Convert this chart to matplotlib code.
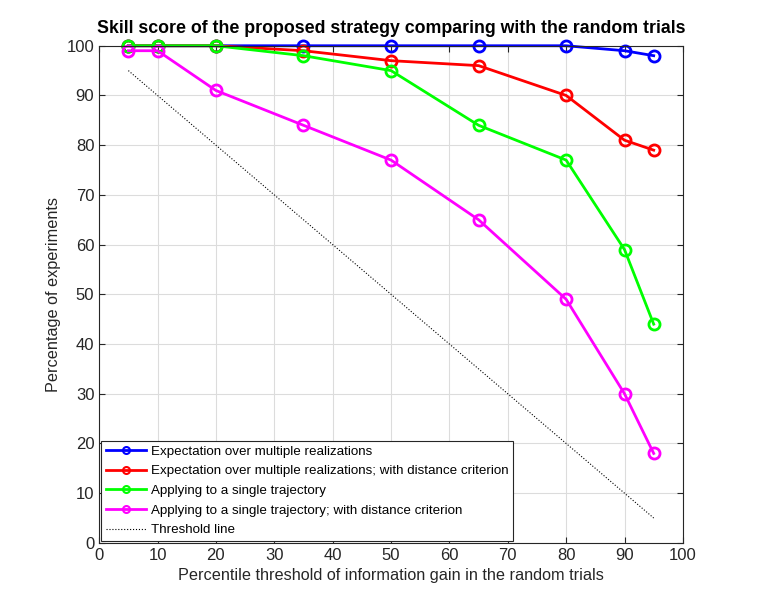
import numpy as np
import matplotlib
matplotlib.use('Agg')
import matplotlib.pyplot as plt
from matplotlib.lines import Line2D

plt.rcParams['font.family'] = ['Liberation Sans', 'DejaVu Sans']

x = [5, 10, 20, 35, 50, 65, 80, 90, 95]
multi = [100, 100, 100, 100, 100, 100, 100, 99, 98]
multi_dist = [100, 100, 100, 99, 97, 96, 90, 81, 79]
single = [100, 100, 100, 98, 95, 84, 77, 59, 44]
single_dist = [99, 99, 91, 84, 77, 65, 49, 30, 18]
thr_x = [5, 95]
thr_y = [95, 5]

labels = ['Expectation over multiple realizations',
          'Expectation over multiple realizations; with distance criterion',
          'Applying to a single trajectory',
          'Applying to a single trajectory; with distance criterion',
          'Threshold line']
colors = ['#0000ff', '#ff0000', '#00ff00', '#ff00ff']

fig = plt.figure(figsize=(7.63, 6.1), dpi=100)
ax = fig.add_axes([0.130, 0.110, 0.765, 0.815])

handles = []
for y, c in zip([multi, multi_dist, single, single_dist], colors):
    ax.plot(x, y, '-o', color=c, lw=2, ms=8, mfc='none', mew=2, clip_on=False)
    handles.append(Line2D([], [], color=c, lw=2, marker='o', ms=5, mfc='none', mew=1.5))
ax.plot(thr_x, thr_y, ':', color='black', lw=0.8)
handles.append(Line2D([], [], color='black', lw=0.8, ls=':'))

ax.set_xlim(0, 100)
ax.set_ylim(0, 100)
ax.set_xticks(np.arange(0, 101, 10))
ax.set_yticks(np.arange(0, 101, 10))
ax.grid(True, color='#dcdcdc', lw=0.8)
ax.tick_params(direction='in', top=True, right=True, labelsize=12, colors='#262626', length=4)
for s in ax.spines.values():
    s.set_color('#262626')
    s.set_linewidth(0.8)

ax.set_title('Skill score of the proposed strategy comparing with the random trials',
             fontsize=12.8, fontweight='bold', pad=9)
ax.set_xlabel('Percentile threshold of information gain in the random trials', fontsize=11.7, color='#262626')
ax.set_ylabel('Percentage of experiments', fontsize=11.7, color='#262626')

leg = ax.legend(handles, labels, loc='lower left', fontsize=9.6, handlelength=3.0,
                borderaxespad=0.15, labelspacing=0.55, handletextpad=0.4, borderpad=0.35,
                fancybox=False, edgecolor='#262626', framealpha=1)
leg.get_frame().set_linewidth(0.8)

fig.savefig('out.png', dpi=100)
